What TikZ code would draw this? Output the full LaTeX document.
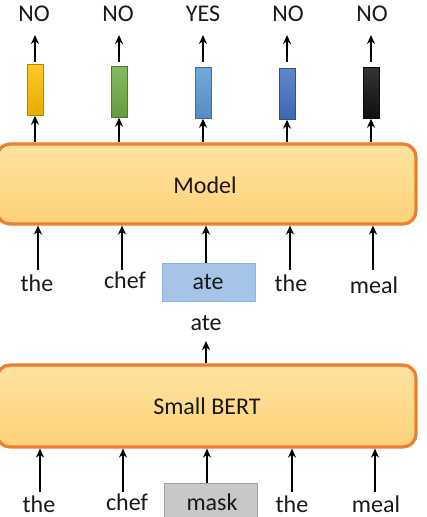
\documentclass[tikz,border=0pt]{standalone}
\usepackage{fontspec}
\setmainfont{Carlito}
\usetikzlibrary{arrows.meta}
\definecolor{borderor}{HTML}{ED7D31}
\definecolor{filltop}{HTML}{FFE3A0}
\definecolor{fillbot}{HTML}{FDD177}
\begin{document}
\begin{tikzpicture}[x=1pt,y=-1pt,
  txt/.style={font=\fontsize{24}{27}\selectfont, inner sep=0pt, anchor=base, text=black!90},
  arr/.style={line width=2.6pt, -{Stealth[length=9pt,width=8pt]}},
  bigbox/.style={draw=borderor, line width=3.2pt, rounded corners=13pt, top color=filltop, bottom color=fillbot},
  bar/.style={minimum width=16pt, minimum height=51pt, inner sep=0pt, draw=#1!70!black, line width=0.4pt, top color=#1!85!white, bottom color=#1!90!black},
  tokbox/.style={inner sep=0pt, line width=0.8pt}
]
\useasboundingbox (0,0) rectangle (426,517);
\definecolor{cy}{HTML}{FFC000}
\definecolor{cg}{HTML}{70AD47}
\definecolor{clb}{HTML}{5B9BD5}
\definecolor{cb}{HTML}{4472C4}
\definecolor{ck}{HTML}{101010}

% output labels
\node[txt] (o1) at (34,21) {NO};
\node[txt] (o2) at (118,21) {NO};
\node[txt] (o3) at (203,21) {YES};
\node[txt] (o4) at (288,21) {NO};
\node[txt] (o5) at (372,21) {NO};

% bars
\node[bar=cy] (b1) at (35,90) {};
\node[bar=cg] (b2) at (119,92) {};
\node[bar=clb] (b3) at (203,93) {};
\node[bar=cb] (b4) at (287,94) {};
\node[bar=ck] (b5) at (371,93) {};

% Model
\node[bigbox, minimum width=419pt, minimum height=80pt, inner sep=0pt] (model) at (206.5,184) {};
\node[txt] (mlabel) at (205,193) {Model};

% middle words
\node[txt] (w1) at (37,291) {the};
\node[txt] (w2) at (125,288) {chef};
\node[tokbox, draw={rgb,255:red,142;green,180;blue,227}, fill={rgb,255:red,166;green,196;blue,232}, minimum width=93pt, minimum height=38pt] (w3box) at (208.5,282) {};
\node[txt] (w3) at (208,289) {ate};
\node[txt] (w4) at (291,291) {the};
\node[txt] (w5) at (374,293) {meal};

\node[txt] (ate) at (206,330) {ate};

% Small BERT
\node[bigbox, minimum width=419pt, minimum height=82pt, inner sep=0pt] (bert) at (206.5,406) {};
\node[txt] (blabel) at (207,414) {Small BERT};

% bottom words
\node[txt] (m1) at (39,512) {the};
\node[txt] (m2) at (127,510) {chef};
\node[tokbox, draw={rgb,255:red,160;green,160;blue,160}, fill={rgb,255:red,200;green,200;blue,200}, minimum width=93pt, minimum height=40pt] (m3box) at (210.5,503) {};
\node[txt] (m3) at (212,510) {mask};
\node[txt] (m4) at (292,512) {the};
\node[txt] (m5) at (376,512) {meal};

% coordinates for arrow starts
\coordinate (s1) at (35,62);
\coordinate (s2) at (119,62);
\coordinate (s3) at (203,62);
\coordinate (s4) at (287,62);
\coordinate (s5) at (371,62);

% top arrows: bars -> labels
\foreach \i in {1,...,5} {
  \draw[arr] (s\i) -- ++(0,-27);
}
% model -> bars
\draw[arr] (b1.south |- model.north) -- (b1.south);
\draw[arr] (b2.south |- model.north) -- (b2.south);
\draw[arr] (b3.south |- model.north) -- (b3.south);
\draw[arr] (b4.south |- model.north) -- (b4.south);
\draw[arr] (b5.south |- model.north) -- (b5.south);

% words -> model
\coordinate (t1) at (38,270);
\coordinate (t2) at (122,270);
\coordinate (t4) at (290,270);
\coordinate (t5) at (373,270);
\draw[arr] (t1) -- (t1 |- model.south);
\draw[arr] (t2) -- (t2 |- model.south);
\draw[arr] (w3box.north -| 206,0) -- (206,0 |- model.south);
\draw[arr] (t4) -- (t4 |- model.south);
\draw[arr] (t5) -- (t5 |- model.south);

% bert -> ate
\draw[arr] (bert.north -| 206,0) -- (206,341);

% bottom words -> bert
\coordinate (u1) at (40,492);
\coordinate (u2) at (123,492);
\coordinate (u4) at (292,492);
\coordinate (u5) at (375,492);
\draw[arr] (u1) -- (u1 |- bert.south);
\draw[arr] (u2) -- (u2 |- bert.south);
\draw[arr] (m3box.north -| 207,0) -- (207,0 |- bert.south);
\draw[arr] (u4) -- (u4 |- bert.south);
\draw[arr] (u5) -- (u5 |- bert.south);
\end{tikzpicture}
\end{document}
